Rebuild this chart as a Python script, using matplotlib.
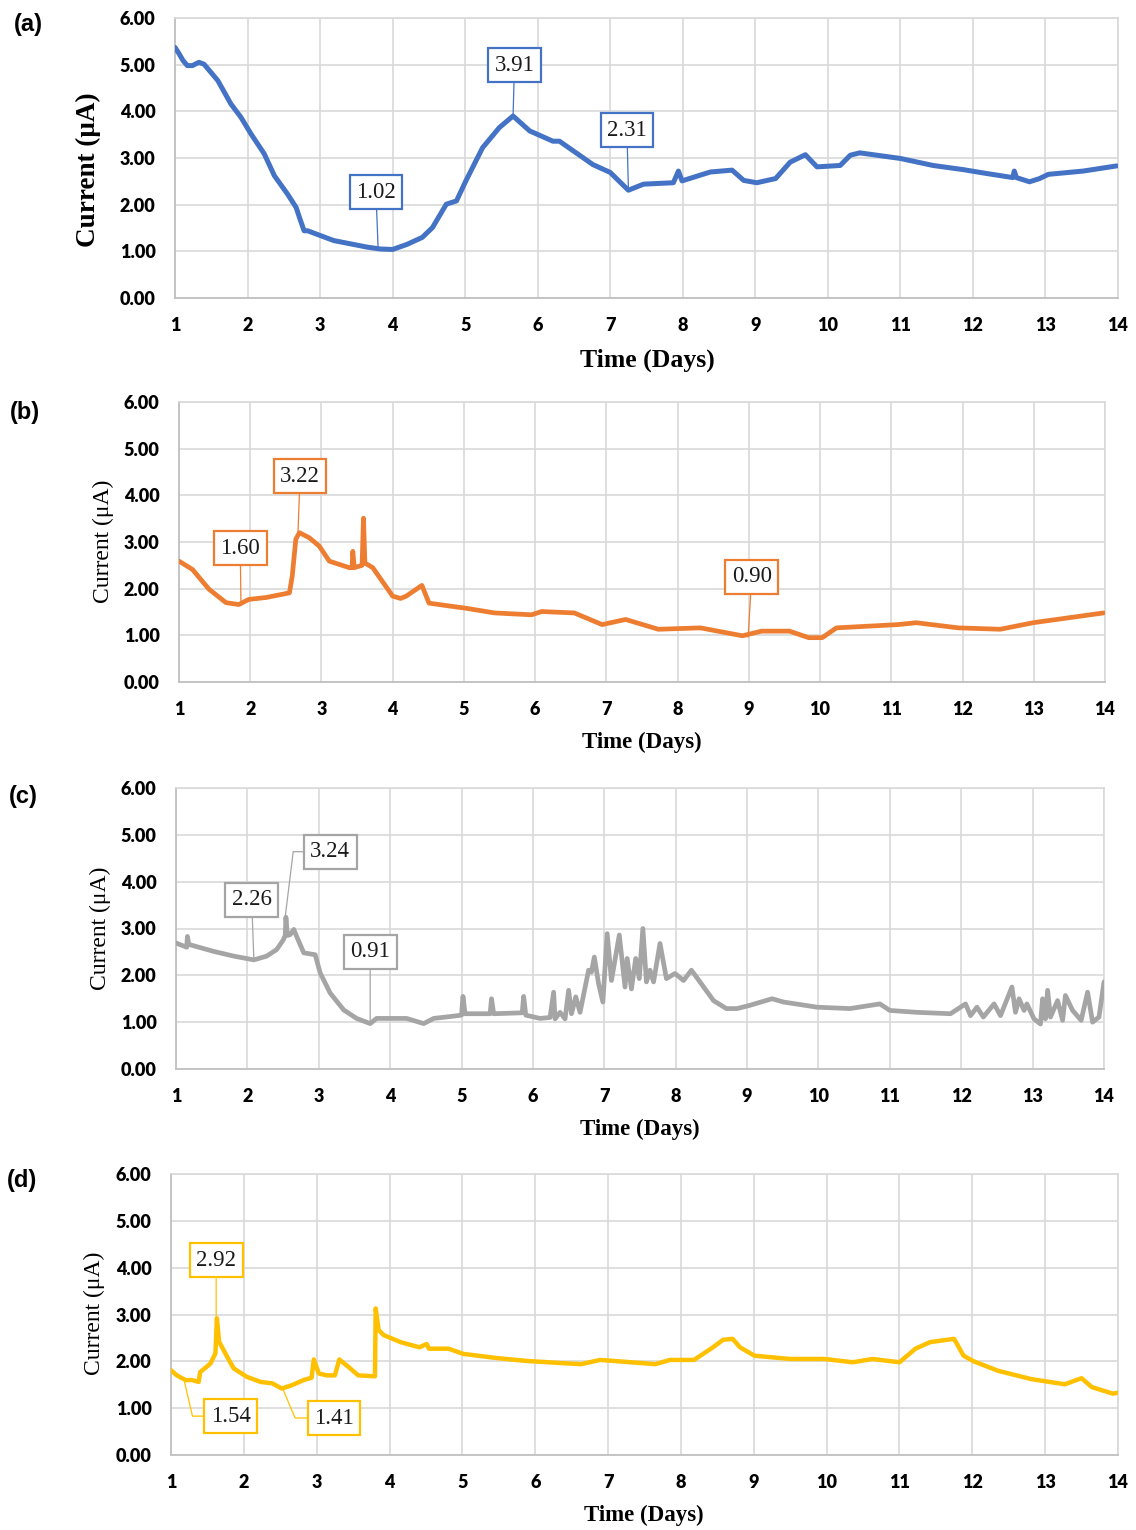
import matplotlib
matplotlib.use("Agg")
import matplotlib.pyplot as plt
from matplotlib.ticker import FormatStrFormatter

# ---------------- data ----------------
a_day = [1.00, 1.05, 1.11, 1.17, 1.24, 1.33, 1.40, 1.59, 1.77, 1.91,
         2.05, 2.23, 2.37, 2.55, 2.67, 2.73, 2.78, 2.83, 3.00, 3.19,
         3.42, 3.65, 3.83, 4.00, 4.20, 4.41, 4.55, 4.74, 4.88, 5.01,
         5.24, 5.47, 5.66, 5.89, 6.21, 6.30, 6.76, 7.00, 7.25, 7.46,
         7.87, 7.94, 7.99, 8.38, 8.68, 8.84, 9.02, 9.28, 9.48, 9.69,
         9.85, 10.17, 10.31, 10.44, 11.00, 11.45, 11.87, 12.14, 12.55, 12.57,
         12.60, 12.78, 12.92, 13.04, 13.52, 13.98]
a_cur = [5.37, 5.25, 5.09, 4.98, 4.98, 5.05, 5.01, 4.66, 4.16, 3.87,
         3.51, 3.09, 2.62, 2.23, 1.94, 1.66, 1.44, 1.44, 1.34, 1.23,
         1.16, 1.09, 1.05, 1.04, 1.15, 1.30, 1.51, 2.01, 2.08, 2.51,
         3.22, 3.65, 3.90, 3.58, 3.36, 3.36, 2.86, 2.69, 2.31, 2.44,
         2.47, 2.72, 2.51, 2.70, 2.74, 2.52, 2.47, 2.56, 2.91, 3.07,
         2.81, 2.84, 3.06, 3.11, 2.99, 2.84, 2.75, 2.68, 2.58, 2.72,
         2.58, 2.49, 2.56, 2.65, 2.72, 2.83]

b_day = [1.00, 1.19, 1.42, 1.66, 1.84, 1.98, 2.22, 2.55, 2.59, 2.64,
         2.69, 2.83, 2.97, 3.11, 3.39, 3.43, 3.44, 3.46, 3.57, 3.59,
         3.61, 3.72, 4.00, 4.11, 4.19, 4.41, 4.51, 4.79, 5.03, 5.43,
         5.95, 6.09, 6.55, 6.94, 7.27, 7.73, 8.32, 8.91, 9.18, 9.57,
         9.84, 10.03, 10.23, 11.09, 11.35, 11.94, 12.53, 12.99, 13.98]
b_cur = [2.59, 2.41, 1.99, 1.70, 1.66, 1.77, 1.81, 1.91, 2.27, 3.06,
         3.20, 3.09, 2.91, 2.59, 2.45, 2.45, 2.80, 2.45, 2.50, 3.51,
         2.55, 2.45, 1.84, 1.79, 1.84, 2.07, 1.69, 1.63, 1.58, 1.48,
         1.44, 1.51, 1.48, 1.23, 1.34, 1.13, 1.16, 0.99, 1.09, 1.09,
         0.95, 0.95, 1.16, 1.23, 1.27, 1.16, 1.13, 1.27, 1.48]

c_day = [1.00, 1.15, 1.16, 1.18, 1.53, 1.81, 2.09, 2.27, 2.41, 2.50,
         2.53, 2.54, 2.56, 2.60, 2.65, 2.69, 2.79, 2.95, 3.02, 3.16,
         3.35, 3.53, 3.72, 3.81, 4.23, 4.47, 4.61, 4.84, 5.00, 5.02,
         5.05, 5.40, 5.42, 5.45, 5.85, 5.87, 5.90, 6.10, 6.24, 6.29,
         6.31, 6.38, 6.45, 6.50, 6.54, 6.60, 6.66, 6.78, 6.82, 6.86,
         6.92, 6.98, 7.04, 7.10, 7.21, 7.29, 7.32, 7.38, 7.44, 7.49,
         7.54, 7.59, 7.64, 7.69, 7.78, 7.87, 7.99, 8.11, 8.22, 8.34,
         8.53, 8.71, 8.86, 9.04, 9.35, 9.51, 9.98, 10.44, 10.86, 11.00,
         11.38, 11.85, 12.06, 12.13, 12.22, 12.31, 12.46, 12.55, 12.71, 12.76,
         12.81, 12.88, 12.92, 13.02, 13.11, 13.14, 13.18, 13.21, 13.25, 13.35,
         13.42, 13.46, 13.56, 13.68, 13.77, 13.84, 13.93, 14.00]
c_cur = [2.69, 2.60, 2.83, 2.66, 2.51, 2.41, 2.33, 2.41, 2.55, 2.75,
         2.85, 3.24, 2.85, 2.87, 2.98, 2.83, 2.48, 2.44, 2.05, 1.62,
         1.26, 1.08, 0.97, 1.08, 1.08, 0.97, 1.08, 1.12, 1.15, 1.55,
         1.18, 1.18, 1.50, 1.18, 1.20, 1.55, 1.15, 1.08, 1.10, 1.64,
         1.07, 1.21, 1.07, 1.68, 1.18, 1.54, 1.21, 2.11, 2.07, 2.39,
         1.82, 1.43, 2.89, 1.89, 2.86, 1.75, 2.36, 1.71, 2.36, 1.93,
         3.00, 1.86, 2.11, 1.86, 2.68, 1.93, 2.04, 1.89, 2.11, 1.86,
         1.46, 1.29, 1.29, 1.36, 1.50, 1.43, 1.32, 1.29, 1.39, 1.25,
         1.21, 1.18, 1.39, 1.14, 1.32, 1.11, 1.39, 1.14, 1.75, 1.21,
         1.50, 1.25, 1.39, 1.07, 0.96, 1.50, 1.07, 1.68, 1.11, 1.46,
         1.04, 1.57, 1.25, 1.04, 1.64, 1.00, 1.11, 1.86]

d_day = [1.00, 1.08, 1.20, 1.29, 1.38, 1.40, 1.54, 1.61, 1.63, 1.66,
         1.77, 1.86, 2.04, 2.23, 2.39, 2.52, 2.66, 2.82, 2.93, 2.96,
         3.03, 3.14, 3.25, 3.31, 3.46, 3.57, 3.80, 3.81, 3.85, 3.92,
         4.15, 4.41, 4.51, 4.54, 4.81, 5.01, 5.47, 5.87, 6.39, 6.63,
         6.89, 7.32, 7.65, 7.85, 8.18, 8.44, 8.58, 8.71, 8.81, 9.01,
         9.50, 9.97, 10.36, 10.63, 11.00, 11.22, 11.42, 11.75, 11.88, 12.02,
         12.35, 12.81, 13.27, 13.50, 13.64, 13.93, 14.00]
d_cur = [1.81, 1.70, 1.60, 1.60, 1.56, 1.77, 1.95, 2.17, 2.92, 2.42,
         2.10, 1.85, 1.67, 1.56, 1.53, 1.42, 1.49, 1.60, 1.65, 2.04,
         1.74, 1.70, 1.70, 2.04, 1.85, 1.70, 1.68, 3.13, 2.67, 2.56,
         2.41, 2.30, 2.37, 2.27, 2.27, 2.16, 2.07, 2.01, 1.96, 1.94,
         2.03, 1.98, 1.94, 2.03, 2.03, 2.30, 2.46, 2.48, 2.30, 2.12,
         2.05, 2.05, 1.98, 2.05, 1.98, 2.27, 2.41, 2.48, 2.12, 2.00,
         1.80, 1.62, 1.51, 1.64, 1.45, 1.31, 1.33]

x_ticks = list(range(1, 15))
y_ticks = [0, 1, 2, 3, 4, 5, 6]

# callout labels: (text, point day, point value, box day, box value, connection)
a_notes = [("1.02", 3.80, 1.07, 3.77, 2.27, None),
           ("3.91", 5.66, 3.88, 5.68, 4.99, None),
           ("2.31", 7.25, 2.36, 7.23, 3.60, None)]
b_notes = [("1.60", 1.87, 1.65, 1.86, 2.87, None),
           ("3.22", 2.67, 3.19, 2.70, 4.41, None),
           ("0.90", 8.99, 0.96, 9.04, 2.25, None)]
c_notes = [("2.26", 2.09, 2.37, 2.06, 3.61, None),
           ("3.24", 2.53, 3.25, 3.16, 4.64, "angle,angleA=0,angleB=83,rad=0"),
           ("0.91", 3.72, 1.00, 3.72, 2.50, None)]
d_notes = [("2.92", 1.62, 2.93, 1.62, 4.16, None),
           ("1.54", 1.18, 1.60, 1.82, 0.83, "angle,angleA=0,angleB=-77,rad=0"),
           ("1.41", 2.54, 1.39, 3.24, 0.79, "angle,angleA=0,angleB=-67,rad=0")]

# ---------------- layout ----------------
W, H = 1136, 1530
fig = plt.figure(figsize=(W / 100, H / 100), dpi=100)
fig.patch.set_facecolor("white")


def fx(px):
    return px / W


def fy(py):
    return 1 - py / H


panels = [
    dict(tag="(a)", day=a_day, cur=a_cur, color="#4472C4", notes=a_notes,
         box=(175, 18, 1118, 298), tagpos=(28, 25), ylab=(88, 170, True, 19.5),
         xlab=(647, 360, 18.5), lw=3.6),
    dict(tag="(b)", day=b_day, cur=b_cur, color="#ED7D31", notes=b_notes,
         box=(179, 402, 1105, 682), tagpos=(25, 413), ylab=(103, 541, False, 17),
         xlab=(642, 742, 16.5), lw=3.4),
    dict(tag="(c)", day=c_day, cur=c_cur, color="#A5A5A5", notes=c_notes,
         box=(176, 788, 1104, 1069), tagpos=(23, 797), ylab=(100, 928, False, 17),
         xlab=(640, 1129, 16.5), lw=3.4),
    dict(tag="(d)", day=d_day, cur=d_cur, color="#FFC000", notes=d_notes,
         box=(171, 1174, 1118, 1455), tagpos=(22, 1181), ylab=(94, 1313, False, 17),
         xlab=(644, 1515, 16.5), lw=3.2),
]

tick_font = dict(family="Lato", weight="heavy", size=13)
serif = "Liberation Serif"

for p in panels:
    l, t, r, b = p["box"]
    ax = fig.add_axes([fx(l), fy(b), (r - l) / W, (b - t) / H])
    ax.plot(p["day"], p["cur"], color=p["color"], lw=p["lw"],
            solid_joinstyle="round", solid_capstyle="round", zorder=3)
    ax.set_xlim(1, 14)
    ax.set_ylim(0, 6)
    ax.set_xticks(x_ticks)
    ax.set_yticks(y_ticks)
    ax.yaxis.set_major_formatter(FormatStrFormatter("%.2f"))
    ax.grid(True, color="#d9d9d9", lw=1.2)
    ax.set_axisbelow(True)
    ax.tick_params(length=0, pad=14)
    for lab in ax.get_xticklabels() + ax.get_yticklabels():
        lab.set_fontfamily(tick_font["family"])
        lab.set_fontweight(tick_font["weight"])
        lab.set_fontsize(tick_font["size"])
    for side in ("top", "right"):
        ax.spines[side].set_color("#d9d9d9")
        ax.spines[side].set_linewidth(1.2)
    for side in ("left", "bottom"):
        ax.spines[side].set_color("#c0c0c0")
        ax.spines[side].set_linewidth(1.3)

    for txt, px_, py_, tx, ty, conn in p["notes"]:
        ap = dict(arrowstyle="-", color=p["color"], lw=0.9,
                  shrinkA=0, shrinkB=0)
        if conn:
            ap["connectionstyle"] = conn
        ax.annotate(txt, xy=(px_, py_), xytext=(tx, ty),
                    ha="center", va="center", fontsize=16.5, family=serif,
                    color="#1a1a1a", zorder=5,
                    bbox=dict(boxstyle="square,pad=0.28", fc="white",
                              ec=p["color"], lw=1.6),
                    arrowprops=ap)

    fig.text(fx(p["tagpos"][0]), fy(p["tagpos"][1]), p["tag"],
             family="Liberation Sans", weight="bold", fontsize=17,
             ha="center", va="center")
    yx, yy, ybold, ysize = p["ylab"]
    fig.text(fx(yx), fy(yy), "Current (μA)", family=serif,
             weight="bold" if ybold else "normal", fontsize=ysize,
             rotation=90, ha="center", va="center")
    xx, xy_, xsize = p["xlab"]
    fig.text(fx(xx), fy(xy_), "Time (Days)", family=serif,
             weight="bold", fontsize=xsize, ha="center", va="center")

fig.savefig("out.png", dpi=100, facecolor="white")
